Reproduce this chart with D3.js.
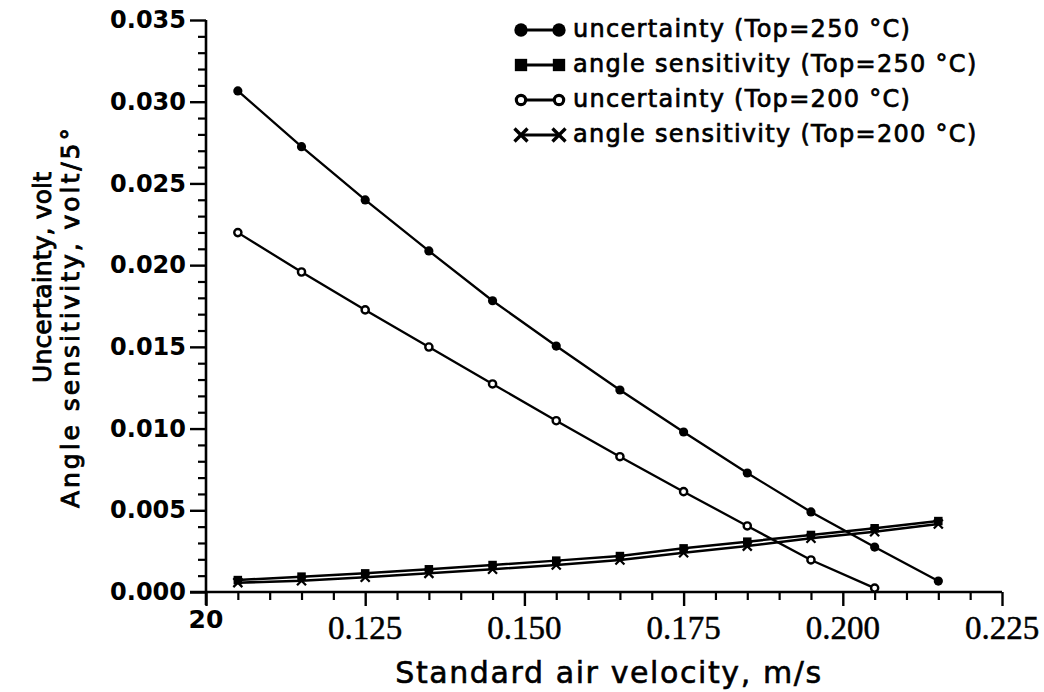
<!DOCTYPE html>
<html>
<head>
<meta charset="utf-8">
<script src="https://cdn.jsdelivr.net/npm/d3@7"></script>
<style>
  html, body { margin: 0; padding: 0; background: #fff; }
  svg { display: block; }
</style>
</head>
<body>
<svg id="chart" width="1044" height="692"></svg>
<script>
// ---- data ----
const velocity = [0.105, 0.115, 0.125, 0.135, 0.145, 0.155, 0.165, 0.175, 0.185, 0.195, 0.205, 0.215];
const uncertainty250 = [0.03066, 0.02725, 0.02399, 0.02087, 0.01782, 0.01505, 0.01236, 0.00979, 0.00728, 0.00490, 0.00275, 0.00067];
const uncertainty200 = [0.02199, 0.01958, 0.01726, 0.01499, 0.01273, 0.01048, 0.00828, 0.00614, 0.00404, 0.00196, 0.00024];
const angle250 = [0.00073, 0.00094, 0.00114, 0.00139, 0.00165, 0.00192, 0.00220, 0.00267, 0.00308, 0.00349, 0.00390, 0.00434];
const angle200 = [0.00057, 0.00069, 0.00090, 0.00114, 0.00139, 0.00165, 0.00196, 0.00240, 0.00281, 0.00329, 0.00369, 0.00416];

const xTickValues = [0.100, 0.125, 0.150, 0.175, 0.200, 0.225];
const xTickLabels = ["20", "0.125", "0.150", "0.175", "0.200", "0.225"];
const yTickValues = [0.000, 0.005, 0.010, 0.015, 0.020, 0.025, 0.030, 0.035];
const yTickLabels = ["0.000", "0.005", "0.010", "0.015", "0.020", "0.025", "0.030", "0.035"];

const legendLabels = [
  "uncertainty (Top=250 °C)",
  "angle sensitivity (Top=250 °C)",
  "uncertainty (Top=200 °C)",
  "angle sensitivity (Top=200 °C)"
];
const xTitle = "Standard air velocity, m/s";
const yTitle1 = "Uncertainty, volt";
const yTitle2 = "Angle sensitivity, volt/5°";

// ---- layout ----
const svg = d3.select("#chart");
const x = d3.scaleLinear().domain([0.100, 0.225]).range([206, 1002]);
const y = d3.scaleLinear().domain([0, 0.035]).range([592, 20]);

const sansRound = "'DejaVu Sans', Verdana, sans-serif";

// Y axis minor ticks
const yMinor = d3.range(0, 36).map(i => i * 0.001).filter(v => Math.round(v * 1000) % 5 !== 0);
svg.append("g")
  .attr("transform", `translate(${x(0.100)},0)`)
  .call(d3.axisLeft(y).tickValues(yMinor).tickSize(8).tickFormat(""))
  .call(g => g.select(".domain").remove())
  .call(g => g.selectAll("line").attr("stroke", "#000").attr("stroke-width", 2.2));

// Y axis major ticks
const gy = svg.append("g")
  .attr("transform", `translate(${x(0.100)},0)`)
  .call(d3.axisLeft(y).tickValues(yTickValues).tickSize(16).tickPadding(4)
        .tickFormat((d, i) => yTickLabels[i]))
  .call(g => g.select(".domain").remove())
  .call(g => g.selectAll("line").attr("stroke", "#000").attr("stroke-width", 2.4));
gy.selectAll("text")
  .attr("font-family", sansRound)
  .attr("font-weight", "bold")
  .attr("font-size", 24)
  .attr("fill", "#000");

// X axis minor ticks
const xMinor = d3.range(0, 26).map(i => 0.100 + i * 0.005).filter((v, i) => i % 5 !== 0);
svg.append("g")
  .attr("transform", `translate(0,${y(0)})`)
  .call(d3.axisBottom(x).tickValues(xMinor).tickSize(8).tickFormat(""))
  .call(g => g.select(".domain").remove())
  .call(g => g.selectAll("line").attr("stroke", "#000").attr("stroke-width", 2.2));

// X axis major ticks
svg.append("g")
  .attr("transform", `translate(0,${y(0)})`)
  .call(d3.axisBottom(x).tickValues(xTickValues).tickSize(14).tickFormat(""))
  .call(g => g.select(".domain").remove())
  .call(g => g.selectAll("line").attr("stroke", "#000").attr("stroke-width", 2.4));

// axis lines
svg.append("line")
  .attr("x1", x(0.100)).attr("x2", x(0.100))
  .attr("y1", y(0.035)).attr("y2", y(0) + 13)
  .attr("stroke", "#000").attr("stroke-width", 2.6);
svg.append("line")
  .attr("x1", x(0.100) - 16).attr("x2", x(0.225))
  .attr("y1", y(0)).attr("y2", y(0))
  .attr("stroke", "#000").attr("stroke-width", 2.6);

// X tick labels
svg.append("g").selectAll("text")
  .data(xTickValues)
  .join("text")
  .attr("x", d => x(d))
  .attr("y", (d, i) => i === 0 ? 628 : 639)
  .attr("text-anchor", "middle")
  .attr("font-family", (d, i) => i === 0 ? sansRound : "'Liberation Serif', 'Times New Roman', serif")
  .attr("font-size", (d, i) => i === 0 ? 25 : 33)
  .attr("font-weight", (d, i) => i === 0 ? "bold" : "normal")
  .attr("stroke", "#000")
  .attr("stroke-width", (d, i) => i === 0 ? 0 : 0.5)
  .attr("fill", "#000")
  .text((d, i) => xTickLabels[i]);

// Axis titles
svg.append("text")
  .attr("x", 609).attr("y", 683)
  .attr("text-anchor", "middle")
  .attr("font-family", sansRound)
  .attr("font-size", 30)
  .attr("letter-spacing", 1.6)
  .attr("stroke", "#000").attr("stroke-width", 0.6)
  .attr("fill", "#000")
  .text(xTitle);

svg.append("text")
  .attr("transform", "translate(51,383) rotate(-90)")
  .attr("text-anchor", "start")
  .attr("font-family", sansRound)
  .attr("font-size", 25)
  .attr("textLength", 211)
  .attr("lengthAdjust", "spacing")
  .attr("stroke", "#000").attr("stroke-width", 0.9)
  .attr("fill", "#000")
  .text(yTitle1);

svg.append("text")
  .attr("transform", "translate(79,508) rotate(-90)")
  .attr("text-anchor", "start")
  .attr("font-family", sansRound)
  .attr("font-size", 25)
  .attr("textLength", 380)
  .attr("lengthAdjust", "spacing")
  .attr("stroke", "#000").attr("stroke-width", 0.9)
  .attr("fill", "#000")
  .text(yTitle2);

// ---- series ----
const line = d3.line().x(d => x(d[0])).y(d => y(d[1]));
const pairs = arr => arr.map((v, i) => [velocity[i], v]);

const series = [
  { data: pairs(uncertainty250), marker: "dot", width: 2.3 },
  { data: pairs(angle250), marker: "square", width: 2.5 },
  { data: pairs(uncertainty200), marker: "ring", width: 2.3 },
  { data: pairs(angle200), marker: "cross", width: 2.5 }
];

series.forEach(s => {
  svg.append("path")
    .datum(s.data)
    .attr("d", line)
    .attr("fill", "none")
    .attr("stroke", "#000")
    .attr("stroke-width", s.width);
});

function drawMarker(g, type, cx, cy, scale) {
  const k = scale || 1;
  if (type === "dot") {
    g.append("circle").attr("cx", cx).attr("cy", cy).attr("r", 4.6 * k).attr("fill", "#000");
  } else if (type === "ring") {
    g.append("circle").attr("cx", cx).attr("cy", cy).attr("r", 3.6 * k)
      .attr("fill", "#fff").attr("stroke", "#000").attr("stroke-width", 2.4 * k);
  } else if (type === "square") {
    const s = 8.5 * k;
    g.append("rect").attr("x", cx - s / 2).attr("y", cy - s / 2).attr("width", s).attr("height", s).attr("fill", "#000");
  } else if (type === "cross") {
    const s = 4.5 * k;
    g.append("path")
      .attr("d", `M${cx - s},${cy - s}L${cx + s},${cy + s}M${cx - s},${cy + s}L${cx + s},${cy - s}`)
      .attr("stroke", "#000").attr("stroke-width", 2.3 * k).attr("fill", "none");
  }
}

const markerLayer = svg.append("g");
series.forEach(s => {
  s.data.forEach(d => drawMarker(markerLayer, s.marker, x(d[0]), y(d[1]), 1));
});

// ---- legend ----
const legendRows = [30, 65, 100, 135];
const legendMarkers = ["dot", "square", "ring", "cross"];
const lg = svg.append("g");
legendLabels.forEach((label, i) => {
  const cy = legendRows[i];
  lg.append("line")
    .attr("x1", 521).attr("x2", 559).attr("y1", cy).attr("y2", cy)
    .attr("stroke", "#000").attr("stroke-width", 3);
  const k = legendMarkers[i] === "ring" ? 1.3 : 1.45;
  drawMarker(lg, legendMarkers[i], 521, cy, k);
  drawMarker(lg, legendMarkers[i], 559, cy, k);
  lg.append("text")
    .attr("x", 573).attr("y", cy + 7)
    .attr("font-family", sansRound)
    .attr("font-size", 24)
    .attr("letter-spacing", 1.3)
    .attr("stroke", "#000").attr("stroke-width", 0.7)
    .attr("fill", "#000")
    .text(label);
});
</script>
</body>
</html>
